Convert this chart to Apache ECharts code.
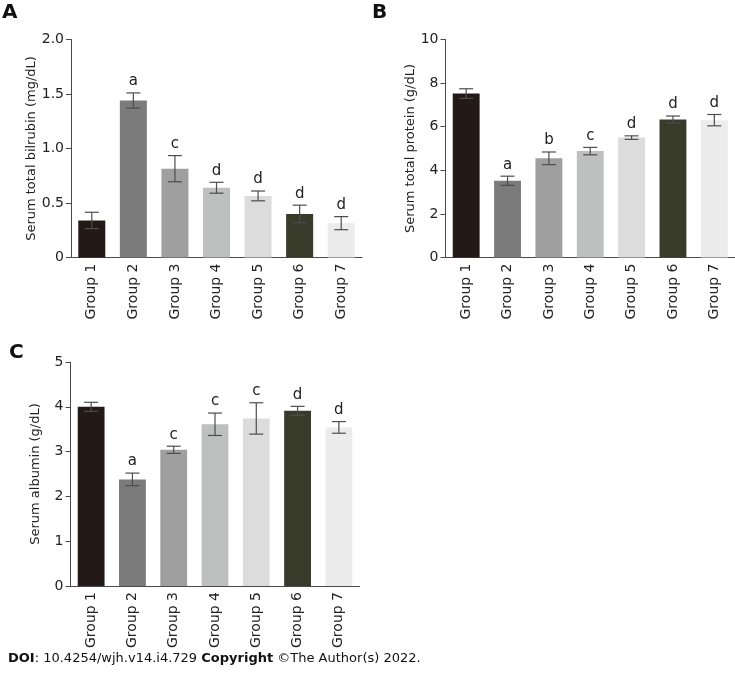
<!DOCTYPE html>
<html><head><meta charset="utf-8">
<script src="https://cdn.jsdelivr.net/npm/echarts@6/dist/echarts.min.js"></script>
<style>html,body{margin:0;padding:0;background:#fff}#c{width:735px;height:673px}</style>
</head><body><div id="c"></div>
<script>
const categories = ['Group 1','Group 2','Group 3','Group 4','Group 5','Group 6','Group 7'];
const barColors = ['#231a17','#7b7b7b','#9e9f9e','#bebfbf','#dcdcdc','#383a2a','#ececec'];

const bilirubin = [0.34, 1.44, 0.815, 0.64, 0.565, 0.40, 0.315];
const bilirubinErr = [0.075, 0.07, 0.12, 0.05, 0.045, 0.08, 0.06];
const bilirubinSig = ['', 'a', 'c', 'd', 'd', 'd', 'd'];

const protein = [7.52, 3.52, 4.55, 4.88, 5.5, 6.33, 6.3];
const proteinErr = [0.22, 0.21, 0.29, 0.17, 0.08, 0.16, 0.26];
const proteinSig = ['', 'a', 'b', 'c', 'd', 'd', 'd'];

const albumin = [4.0, 2.38, 3.04, 3.61, 3.74, 3.91, 3.54];
const albuminErr = [0.1, 0.14, 0.08, 0.25, 0.35, 0.1, 0.13];
const albuminSig = ['', 'a', 'c', 'c', 'c', 'd', 'd'];

const FONT = 'DejaVu Sans';
const AX = '#4a4a4a';

function xAxis(gi){
  return {
    type:'category', gridIndex:gi, data:categories,
    axisLine:{lineStyle:{color:AX,width:1}},
    axisTick:{alignWithLabel:true,length:5,lineStyle:{color:AX}},
    axisLabel:{rotate:90,color:'#222',fontFamily:FONT,fontSize:14,margin:6},
    splitLine:{show:false}
  };
}
function yAxis(gi,max,interval,name,gap,dec){
  return {
    type:'value', gridIndex:gi, min:0, max:max, interval:interval,
    name:name, nameLocation:'middle', nameGap:gap, nameRotate:90,
    nameTextStyle:{color:'#222',fontFamily:FONT,fontSize:13},
    axisLine:{show:true,lineStyle:{color:AX,width:1}},
    axisTick:{show:true,length:5,lineStyle:{color:AX}},
    axisLabel:{color:'#222',fontFamily:FONT,fontSize:14,margin:7,
      formatter:v=> v===0 ? '0' : v.toFixed(dec)},
    splitLine:{show:false}
  };
}
function bars(gi,vals){
  return {
    type:'bar', xAxisIndex:gi, yAxisIndex:gi, barWidth:'65%',
    data: vals.map((v,i)=>({value:v,itemStyle:{color:barColors[i]}})),
    silent:true, animation:false
  };
}
function errs(gi,vals,err,sig){
  return {
    type:'custom', xAxisIndex:gi, yAxisIndex:gi, z:5, animation:false, silent:true,
    data: vals.map((v,i)=>[i,v,err[i]]),
    renderItem:function(params,api){
      const i=api.value(0), v=api.value(1), e=api.value(2);
      const s = sig[params.dataIndex];
      const top=api.coord([i,v+e]), bot=api.coord([i,v-e]);
      const hw=7;
      const st={stroke:'#4d4d4d',lineWidth:1.2};
      const ch=[
        {type:'line',shape:{x1:top[0],y1:top[1],x2:bot[0],y2:bot[1]},style:st},
        {type:'line',shape:{x1:top[0]-hw,y1:top[1],x2:top[0]+hw,y2:top[1]},style:st},
        {type:'line',shape:{x1:bot[0]-hw,y1:bot[1],x2:bot[0]+hw,y2:bot[1]},style:st}
      ];
      if(s){
        ch.push({type:'text',x:top[0],y:top[1]-4,style:{text:s,fill:'#222',font:'15px "'+FONT+'"',textAlign:'center',textVerticalAlign:'bottom'}});
      }
      return {type:'group',children:ch};
    }
  };
}

const chart = echarts.init(document.getElementById('c'),null,{renderer:'canvas'});
chart.setOption({
  backgroundColor:'#fff',
  animation:false,
  grid:[
    {left:71,top:39.5,width:291,height:218},
    {left:445.5,top:39.5,width:290,height:218},
    {left:70.5,top:362,width:289,height:224}
  ],
  xAxis:[xAxis(0),xAxis(1),xAxis(2)],
  yAxis:[
    yAxis(0,2,0.5,'Serum total bilrubin (mg/dL)',32,1),
    yAxis(1,10,2,'Serum total protein (g/dL)',27,0),
    yAxis(2,5,1,'Serum albumin (g/dL)',28,0)
  ],
  series:[
    bars(0,bilirubin), errs(0,bilirubin,bilirubinErr,bilirubinSig),
    bars(1,protein), errs(1,protein,proteinErr,proteinSig),
    bars(2,albumin), errs(2,albumin,albuminErr,albuminSig)
  ],
  graphic:[
    {type:'text',left:2,top:3,style:{text:'A',font:'bold 20px "'+FONT+'"',fill:'#111'}},
    {type:'text',left:372,top:3,style:{text:'B',font:'bold 20px "'+FONT+'"',fill:'#111'}},
    {type:'text',left:9,top:343,style:{text:'C',font:'bold 20px "'+FONT+'"',fill:'#111'}},
    {type:'text',left:8,top:652,style:{
      text:'{b|DOI}: 10.4254/wjh.v14.i4.729 {b|Copyright} ©The Author(s) 2022.',
      font:'13px "'+FONT+'"',fill:'#111',
      rich:{b:{fontWeight:'bold',fontFamily:FONT,fontSize:13,fill:'#111'}}
    }}
  ]
});
</script>
</body></html>
